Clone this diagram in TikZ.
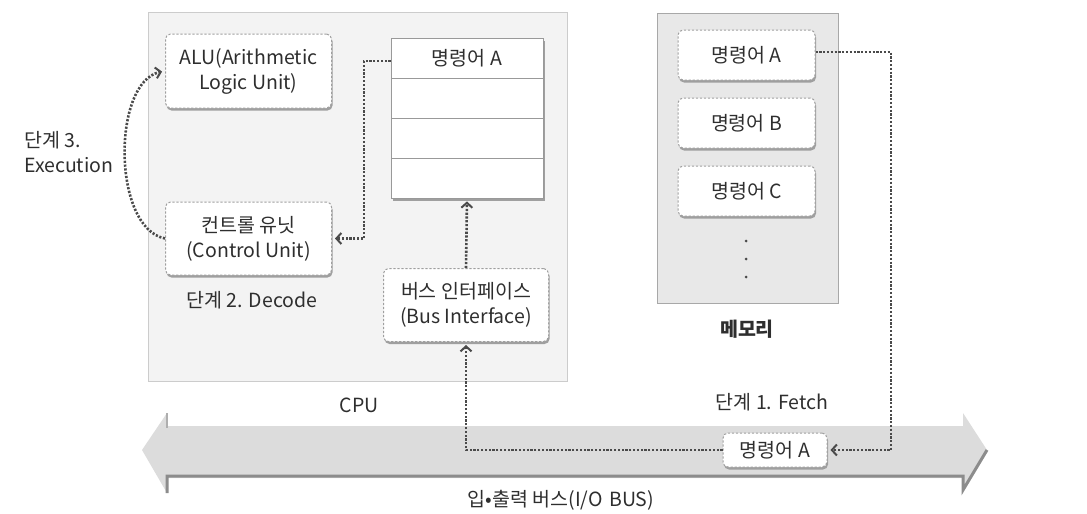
\documentclass[tikz,border=0pt]{standalone}
\usepackage{fontspec}
\setmainfont{Noto Sans CJK KR}
\usetikzlibrary{arrows.meta,shadows}
\definecolor{cpufill}{HTML}{F3F3F3}
\definecolor{cpuline}{HTML}{CCCCCC}
\definecolor{memfill}{HTML}{E8E8E8}
\definecolor{memline}{HTML}{A8A8A8}
\definecolor{busfill}{HTML}{DCDCDC}
\definecolor{busline}{HTML}{8C8C8C}
\definecolor{conncol}{HTML}{4A4A4A}
\definecolor{txt}{HTML}{2E2E2E}
\begin{document}
\begin{tikzpicture}[x=1pt,y=-1pt,
  font=\fontsize{19.5}{25}\selectfont, text=txt,
  panel/.style={draw=cpuline, fill=cpufill, line width=0.8pt, minimum width=#1},
  dbox/.style={draw=gray!75, dash pattern=on 2.2pt off 1.8pt, line width=1pt,
    rounded corners=5pt, fill=white, align=center, inner sep=0pt,
    copy shadow={shadow xshift=1pt, shadow yshift=-2.5pt, draw=none, fill=gray!75}},
  regrow/.style={draw=gray!80, line width=0.8pt, fill=white, minimum width=152pt, minimum height=40pt, inner sep=0pt},
  conn/.style={draw=conncol, line width=2.6pt, dash pattern=on 2.2pt off 1.6pt},
  arr/.style={-{Straight Barb[length=5pt,width=11pt,line width=2pt]}, shorten >=3pt},
  lbl/.style={inner sep=0pt, align=center}
]
\useasboundingbox (0,0) rectangle (1087,514);

% I/O bus arrow
\fill[busfill] (142,450) -- (167,413) -- (167,426) -- (963,426) -- (963,413) -- (987,450)
  -- (963,490) -- (963,478) -- (167,478) -- (167,493) -- cycle;
\draw[busline, line width=3pt] (167,493) -- (167,476) -- (963,476) -- (963,490) -- (987,450);
\draw[busline!70, line width=1.5pt] (167,413) -- (167,428);

% CPU panel
\node[panel=419pt, minimum height=369pt] (cpu) at (357.5,196.5) {};
% memory panel
\node[draw=memline, fill=memfill, line width=0.9pt, minimum width=181pt, minimum height=290pt] (mem) at (747.5,158) {};

% CPU contents
\node[dbox, minimum width=166pt, minimum height=74pt] (alu) at (248.5,71) {ALU(Arithmetic\\Logic Unit)};
\node[dbox, minimum width=166pt, minimum height=73pt] (cu) at (248.5,238.5) {컨트롤 유닛\\(Control Unit)};
\node[lbl] (decode) at (252,300) {단계 2. Decode};

\fill[gray!75] (393,41) rectangle (545,201);
\node[regrow] (r1) at (467,58) {명령어 A};
\node[regrow] (r2) at (467,98) {};
\node[regrow] (r3) at (467,138) {};
\node[regrow] (r4) at (467,178) {};

\node[dbox, minimum width=165pt, minimum height=73pt] (bi) at (466,305) {버스 인터페이스\\(Bus Interface)};

% memory contents
\node[dbox, minimum width=137pt, minimum height=50pt] (ma) at (746.5,55) {명령어 A};
\node[dbox, minimum width=137pt, minimum height=50pt] (mb) at (746.5,123) {명령어 B};
\node[dbox, minimum width=137pt, minimum height=50pt] (mc) at (746.5,191) {명령어 C};
\foreach \yy in {241,259,277} \fill[conncol] (746,\yy) circle (1.5pt);
\node[lbl, font=\fontsize{19.5}{25}\selectfont\bfseries] (memlbl) at (747,329) {메모리};

% labels
\node[lbl] (cpulbl) at (359,405) {CPU};
\node[lbl] (fetch) at (772,402) {단계 1. Fetch};
\node[lbl] (iobus) at (561,500) {입•출력 버스(I/O\,\,BUS)};
\node[lbl, align=left, anchor=west] (exec) at (24,152) {단계 3.\\Execution};

% bus packet
\node[dbox, minimum width=104pt, minimum height=34pt] (pkt) at (775,450) {명령어 A};

% connectors
\coordinate (f1) at (891,52);
\draw[conn, arr] (ma.east |- f1) -- (f1) |- (pkt.east);
\draw[conn, arr] (pkt.west) -| (bi.south);
\draw[conn, arr] (bi.north) -- (r4.south);
\coordinate (d1) at (364,61);
\draw[conn, arr] (r1.west |- d1) -- (d1) |- (cu.east);
\draw[conn, arr] (cu.west) .. controls (112,228) and (112,82) .. (alu.west);
\end{tikzpicture}
\end{document}
